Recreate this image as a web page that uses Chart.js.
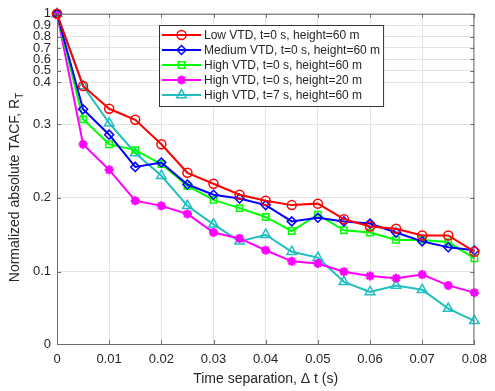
<!DOCTYPE html>
<html>
<head>
<meta charset="utf-8">
<script src="https://cdn.jsdelivr.net/npm/chart.js@4/dist/chart.umd.min.js"></script>
<style>
  html, body { margin: 0; padding: 0; background: #fff; }
  #wrap { width: 495px; height: 391px; }
</style>
</head>
<body>
<div id="wrap"><canvas id="c" width="495" height="391"></canvas></div>
<script>
// --- Data ---
const xValues = [0, 0.005, 0.01, 0.015, 0.02, 0.025, 0.03, 0.035, 0.04, 0.045, 0.05, 0.055, 0.06, 0.065, 0.07, 0.075, 0.08];
const xTicks = [0, 0.01, 0.02, 0.03, 0.04, 0.05, 0.06, 0.07, 0.08];
const yTicks = [0, 0.1, 0.2, 0.3, 0.4, 0.5, 0.6, 0.7, 0.8, 0.9, 1];

const seriesLabels = [
  'Low VTD, t=0 s, height=60 m',
  'Medium VTD, t=0 s, height=60 m',
  'High VTD, t=0 s, height=60 m',
  'High VTD, t=0 s, height=20 m',
  'High VTD, t=7 s, height=60 m'
];
const lowVtd60 = [1, 0.391, 0.337, 0.311, 0.273, 0.234, 0.219, 0.204, 0.196, 0.190, 0.192, 0.171, 0.161, 0.158, 0.149, 0.149, 0.127];
const mediumVtd60 = [1, 0.336, 0.286, 0.242, 0.248, 0.218, 0.204, 0.199, 0.190, 0.168, 0.173, 0.168, 0.165, 0.153, 0.141, 0.133, 0.129];
const highVtd60 = [1, 0.312, 0.273, 0.265, 0.246, 0.216, 0.197, 0.186, 0.174, 0.155, 0.177, 0.156, 0.153, 0.143, 0.143, 0.140, 0.118];
const highVtd20 = [1, 0.273, 0.238, 0.196, 0.189, 0.178, 0.153, 0.145, 0.129, 0.114, 0.111, 0.100, 0.094, 0.091, 0.096, 0.081, 0.071];
const highVtd60t7 = [1, 0.391, 0.303, 0.261, 0.230, 0.189, 0.164, 0.141, 0.150, 0.127, 0.119, 0.086, 0.072, 0.081, 0.075, 0.049, 0.032];

// --- Piecewise y scale (axis in the figure is stretched below 0.4) ---
const breakValues = [0, 0.1, 0.2, 0.3, 0.4, 1];
const breakFracs = [0, 0.219, 0.443, 0.665, 0.793, 1];

class PiecewiseScale extends Chart.LinearScale {
  static id = 'piecewise';
  static defaults = Chart.LinearScale.defaults;
  toDecimal(v) {
    for (let i = 1; i < breakValues.length; i++) {
      if (v <= breakValues[i] || i === breakValues.length - 1) {
        const t = (v - breakValues[i - 1]) / (breakValues[i] - breakValues[i - 1]);
        return breakFracs[i - 1] + t * (breakFracs[i] - breakFracs[i - 1]);
      }
    }
    return 0;
  }
  fromDecimal(d) {
    for (let i = 1; i < breakFracs.length; i++) {
      if (d <= breakFracs[i] || i === breakFracs.length - 1) {
        const t = (d - breakFracs[i - 1]) / (breakFracs[i] - breakFracs[i - 1]);
        return breakValues[i - 1] + t * (breakValues[i] - breakValues[i - 1]);
      }
    }
    return 0;
  }
  getPixelForValue(value) {
    return this.getPixelForDecimal(this.toDecimal(value));
  }
  getValueForPixel(pixel) {
    return this.fromDecimal(this.getDecimalForPixel(pixel));
  }
}
Chart.register(PiecewiseScale);

const FONT = "'Liberation Sans', Arial, sans-serif";
const TEXT = '#262626';
const AXIS = '#6e6e6e';
const GRID = '#e3e3e3';

const styles = [
  { color: '#ff0000', point: 'circle', radius: 4.5 },
  { color: '#0000ff', point: 'rectRot', radius: 4.5 },
  { color: '#00ff00', point: 'rect', radius: 4.5 },
  { color: '#ff00ff', point: 'star', radius: 4.5 },
  { color: '#1fbfbf', point: 'triangle', radius: 5.5 }
];
const allSeries = [lowVtd60, mediumVtd60, highVtd60, highVtd20, highVtd60t7];

const datasets = allSeries.map((vals, i) => ({
  label: seriesLabels[i],
  data: vals.map((y, j) => ({ x: xValues[j], y })),
  borderColor: styles[i].color,
  backgroundColor: styles[i].color,
  borderWidth: 2,
  pointStyle: styles[i].point,
  pointRadius: styles[i].radius,
  pointBorderWidth: i === 3 ? 2.5 : 1.5,
  pointBackgroundColor: i === 3 ? styles[i].color : 'rgba(0,0,0,0)',
  pointBorderColor: styles[i].color,
  tension: 0,
  clip: false
}));

// --- Box, inward ticks, titles and legend ---
const decorPlugin = {
  id: 'decor',
  afterDraw(chart) {
    const { ctx, chartArea: a, scales } = chart;
    ctx.save();
    // box + inward tick marks
    ctx.strokeStyle = AXIS;
    ctx.lineWidth = 1;
    ctx.strokeRect(a.left + 0.5, a.top + 0.5, a.right - a.left - 1, a.bottom - a.top);
    ctx.beginPath();
    xTicks.forEach(v => {
      const px = Math.round(scales.x.getPixelForValue(v)) + 0.5;
      ctx.moveTo(px, a.bottom); ctx.lineTo(px, a.bottom - 4);
      ctx.moveTo(px, a.top); ctx.lineTo(px, a.top + 4);
    });
    yTicks.forEach(v => {
      const py = Math.round(scales.y.getPixelForValue(v)) + 0.5;
      ctx.moveTo(a.left, py); ctx.lineTo(a.left + 4, py);
      ctx.moveTo(a.right, py); ctx.lineTo(a.right - 4, py);
    });
    ctx.stroke();

    // x title
    ctx.fillStyle = TEXT;
    ctx.font = '14px ' + FONT;
    ctx.textAlign = 'center';
    ctx.textBaseline = 'alphabetic';
    ctx.fillText('Time separation, \u0394 t (s)', (a.left + a.right) / 2, 383);

    // y title with subscript
    const main = 'Normalized absolute TACF, R';
    ctx.font = '14px ' + FONT;
    const wMain = ctx.measureText(main).width;
    ctx.font = '10px ' + FONT;
    const wSub = ctx.measureText('T').width;
    const total = wMain + wSub;
    ctx.translate(19, 187.5);
    ctx.rotate(-Math.PI / 2);
    ctx.textAlign = 'left';
    ctx.font = '14px ' + FONT;
    ctx.fillText(main, -total / 2, 0);
    ctx.font = '10px ' + FONT;
    ctx.fillText('T', -total / 2 + wMain, 4);
    ctx.setTransform(1, 0, 0, 1, 0, 0);

    // legend
    const lx = 159, ly = 25, rowH = 15;
    ctx.font = '12px ' + FONT;
    const maxW = Math.max(...seriesLabels.map(t => ctx.measureText(t).width));
    const w = 204 - lx + maxW + 3;
    const h = 81;
    ctx.fillStyle = '#fff';
    ctx.fillRect(lx, ly, w, h);
    ctx.strokeStyle = '#333';
    ctx.strokeRect(lx + 0.5, ly + 0.5, w, h);
    datasets.forEach((ds, i) => {
      const y = ly + 10 + i * rowH;
      ctx.strokeStyle = ds.borderColor;
      ctx.lineWidth = 2;
      ctx.beginPath();
      ctx.moveTo(162, y); ctx.lineTo(201, y);
      ctx.stroke();
      ctx.fillStyle = ds.pointBackgroundColor;
      ctx.lineWidth = ds.pointBorderWidth;
      Chart.helpers.drawPoint(ctx, { pointStyle: ds.pointStyle, radius: ds.pointRadius, rotation: 0, borderWidth: ds.pointBorderWidth }, 181.5, y);
      ctx.fillStyle = TEXT;
      ctx.textAlign = 'left';
      ctx.textBaseline = 'middle';
      ctx.fillText(ds.label, 204, y + 0.5);
    });
    ctx.restore();
  }
};

new Chart(document.getElementById('c'), {
  type: 'line',
  data: { datasets },
  options: {
    responsive: false,
    animation: false,
    layout: { padding: { left: 0, right: 13, top: 10, bottom: 0 } },
    plugins: { legend: { display: false }, tooltip: { enabled: false } },
    scales: {
      x: {
        type: 'linear',
        min: 0,
        max: 0.08,
        afterBuildTicks: s => { s.ticks = xTicks.map(v => ({ value: v })); },
        afterFit: s => { s.height = 47; },
        grid: { color: GRID, drawTicks: false },
        border: { color: AXIS },
        ticks: {
          autoSkip: false,
          maxRotation: 0,
          padding: 8,
          color: TEXT,
          font: { family: FONT, size: 13 },
          callback: v => (v === 0 ? '0' : v.toFixed(2))
        }
      },
      y: {
        type: 'piecewise',
        min: 0,
        max: 1,
        afterBuildTicks: s => { s.ticks = yTicks.map(v => ({ value: v })); },
        afterFit: s => { s.width = 57; },
        grid: { color: GRID, drawTicks: false },
        border: { color: AXIS },
        ticks: {
          autoSkip: false,
          padding: 6,
          color: TEXT,
          font: { family: FONT, size: 13 },
          callback: v => (v === 0 ? '0' : v === 1 ? '1' : v.toFixed(1))
        }
      }
    }
  },
  plugins: [decorPlugin]
});
</script>
</body>
</html>
